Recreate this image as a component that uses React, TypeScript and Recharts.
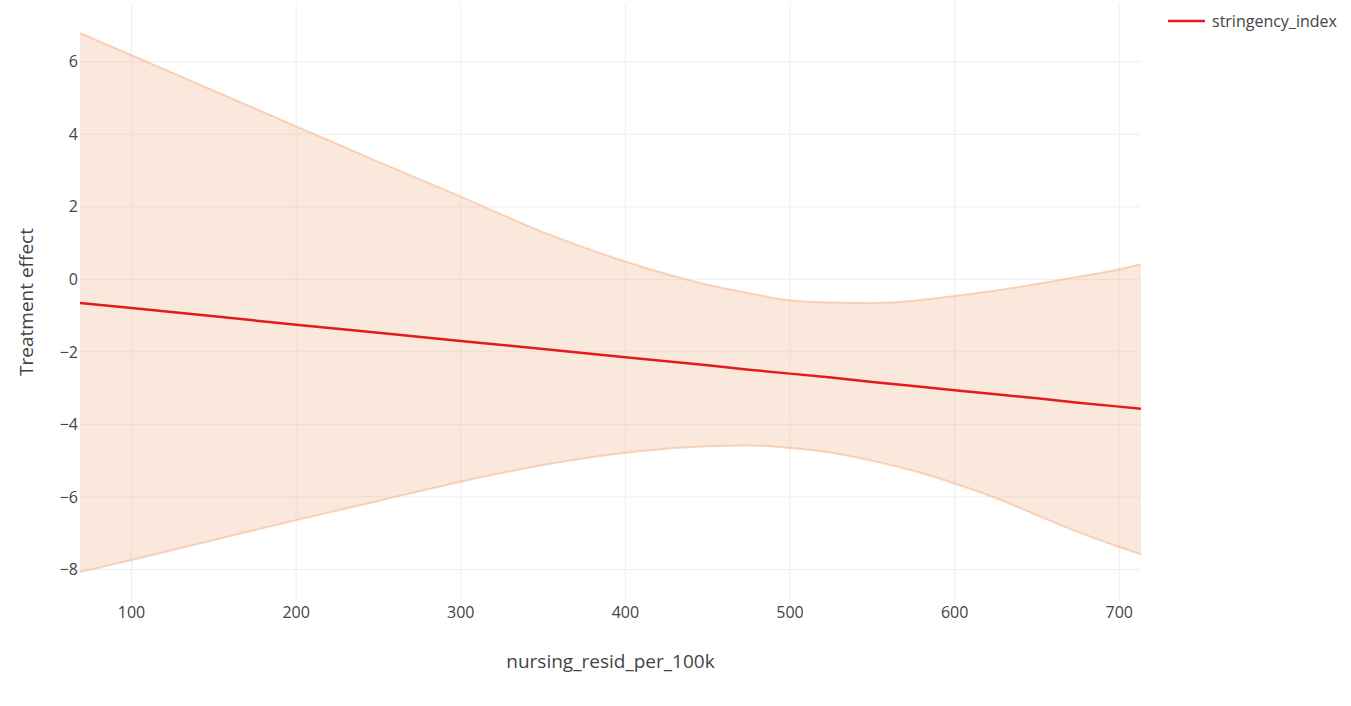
import {
  ComposedChart,
  Area,
  Line,
  XAxis,
  YAxis,
  CartesianGrid,
  Label,
} from "recharts";

const nursingResid = [
  68.7, 100, 150, 200, 250, 300, 350, 400, 450, 475, 500, 525, 550, 575, 600,
  625, 650, 675, 700, 713.2,
];
const effect = [
  -0.65, -0.79, -1.02, -1.25, -1.47, -1.7, -1.92, -2.15, -2.37, -2.49, -2.6,
  -2.71, -2.83, -2.94, -3.06, -3.17, -3.28, -3.4, -3.51, -3.57,
];
const upper = [
  6.79, 6.18, 5.2, 4.22, 3.24, 2.28, 1.3, 0.49, -0.15, -0.38, -0.58, -0.64,
  -0.65, -0.59, -0.46, -0.31, -0.13, 0.07, 0.28, 0.42,
];
const lower = [
  -8.07, -7.74, -7.19, -6.64, -6.11, -5.58, -5.12, -4.78, -4.6, -4.58, -4.65,
  -4.78, -5.0, -5.28, -5.63, -6.03, -6.5, -6.97, -7.38, -7.58,
];
const xTicks = [100, 200, 300, 400, 500, 600, 700];
const yTicks = [-8, -6, -4, -2, 0, 2, 4, 6];

const data = nursingResid.map((x, i) => ({
  x,
  effect: effect[i],
  band: [lower[i], upper[i]],
}));

const font = "'Open Sans', verdana, arial, sans-serif";
const tickStyle = { fontSize: 16, fill: "#444", fontFamily: font };

export default function App() {
  return (
    <div
      style={{
        position: "absolute",
        left: 0,
        top: 0,
        width: 1351,
        height: 706,
        background: "#fff",
      }}
    >
      <ComposedChart
        width={1351}
        height={706}
        data={data}
        margin={{ top: 3, right: 210, left: 0, bottom: 0 }}
      >
        <CartesianGrid
          stroke="#eee"
          strokeWidth={1}
          horizontalValues={yTicks}
          verticalValues={xTicks}
        />
        <XAxis
          dataKey="x"
          type="number"
          domain={[68.7, 713.2]}
          ticks={xTicks}
          allowDataOverflow
          axisLine={false}
          tickLine={false}
          tickSize={0}
          tickMargin={6}
          height={105}
          tick={tickStyle}
        >
          <Label
            value="nursing_resid_per_100k"
            position="insideTop"
            offset={54}
            style={{ fontSize: 19, fill: "#444", fontFamily: font }}
          />
        </XAxis>
        <YAxis
          type="number"
          domain={[-8.87, 7.62]}
          ticks={yTicks}
          allowDataOverflow
          axisLine={false}
          tickLine={false}
          tickSize={0}
          tickMargin={2}
          width={80}
          tick={tickStyle}
          tickFormatter={(v) => String(v).replace("-", "\u2212")}
        >
          <Label
            value="Treatment effect"
            angle={-90}
            position="insideLeft"
            offset={26}
            style={{
              fontSize: 19,
              fill: "#444",
              fontFamily: font,
              textAnchor: "middle",
            }}
          />
        </YAxis>
        <Area
          dataKey="band"
          type="monotone"
          fill="#f2b28a"
          fillOpacity={0.3}
          stroke="#f4b48a"
          strokeOpacity={0.55}
          strokeWidth={2}
          isAnimationActive={false}
        />
        <Line
          dataKey="effect"
          type="linear"
          stroke="#e41a1c"
          strokeWidth={2.5}
          dot={false}
          activeDot={false}
          isAnimationActive={false}
        />
      </ComposedChart>
      <div
        style={{
          position: "absolute",
          left: 1168,
          top: 10,
          display: "flex",
          alignItems: "center",
          fontFamily: font,
          fontSize: 16,
          color: "#444",
          whiteSpace: "nowrap",
        }}
      >
        <svg width={44} height={22}>
          <line
            x1={0}
            y1={11}
            x2={37}
            y2={11}
            stroke="#e41a1c"
            strokeWidth={2.5}
          />
        </svg>
        <span>stringency_index</span>
      </div>
    </div>
  );
}
